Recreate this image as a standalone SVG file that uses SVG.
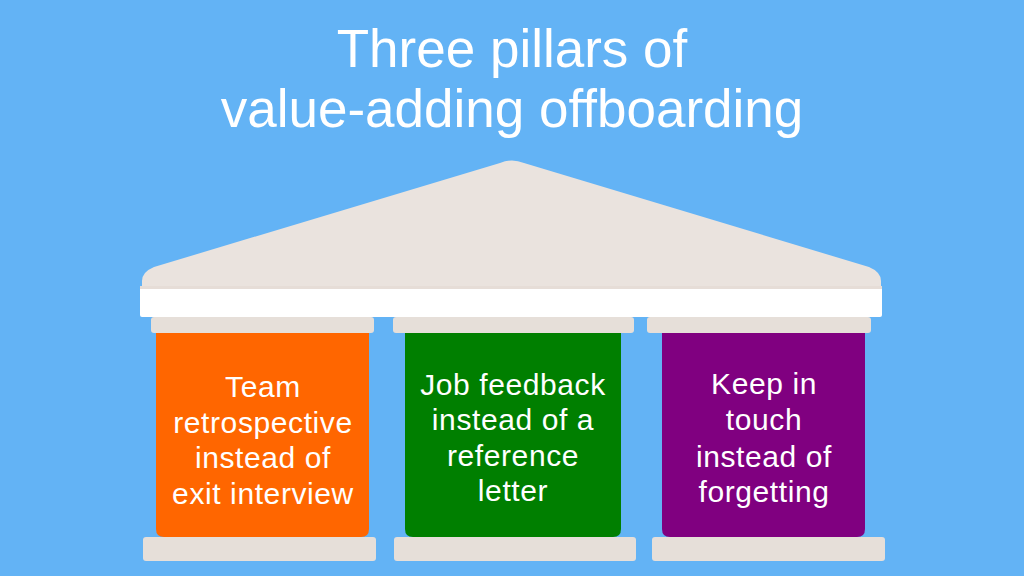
<svg xmlns="http://www.w3.org/2000/svg" width="1024" height="576" viewBox="0 0 1024 576">
<style>
.title{font-family:"Liberation Sans",Arial,sans-serif;font-size:53px;fill:#fff;text-anchor:middle}
.lbl{font-family:"Liberation Sans",Arial,sans-serif;font-size:30px;fill:#fff;text-anchor:middle;letter-spacing:0.6px}
.stone{fill:#E6DFD9}
</style>
<rect width="1024" height="576" fill="#63B3F5"/>
<g id="title">
<text class="title" x="512" y="67">Three pillars of</text>
<text class="title" x="512" y="127">value-adding offboarding</text>
</g>
<g id="roof">
<path d="M142,288 L142,281 Q142,272 154,267 L500,163 Q512,158 524,163 L869,267 Q881,272 881,281 L881,288 Z" fill="#EAE3DE"/>
<rect x="140" y="286" width="742" height="31" rx="2" fill="#fff"/>
<rect x="140" y="286" width="742" height="3" fill="#E6DDD7"/>
</g>
<g id="pillar1">
<rect class="stone" x="151" y="317" width="223" height="16" rx="3"/>
<path d="M156,333 H369 V529 Q369,537 361,537 H164 Q156,537 156,529 Z" fill="#FF6600"/>
<rect class="stone" x="143" y="537" width="233" height="24" rx="3"/>
<text class="lbl" x="263" y="397">Team</text>
<text class="lbl" x="263" y="433">retrospective</text>
<text class="lbl" x="263" y="468">instead of</text>
<text class="lbl" x="263" y="504">exit interview</text>
</g>
<g id="pillar2">
<rect class="stone" x="393" y="317" width="241" height="16" rx="3"/>
<path d="M405,333 H621 V529 Q621,537 613,537 H413 Q405,537 405,529 Z" fill="#007F00"/>
<rect class="stone" x="394" y="537" width="242" height="24" rx="3"/>
<text class="lbl" x="513" y="395">Job feedback</text>
<text class="lbl" x="513" y="430">instead of a</text>
<text class="lbl" x="513" y="466">reference</text>
<text class="lbl" x="513" y="501">letter</text>
</g>
<g id="pillar3">
<rect class="stone" x="647" y="317" width="224" height="16" rx="3"/>
<path d="M662,333 H865 V529 Q865,537 857,537 H670 Q662,537 662,529 Z" fill="#800080"/>
<rect class="stone" x="652" y="537" width="233" height="24" rx="3"/>
<text class="lbl" x="764" y="394">Keep in</text>
<text class="lbl" x="764" y="430">touch</text>
<text class="lbl" x="764" y="467">instead of</text>
<text class="lbl" x="764" y="502">forgetting</text>
</g>
<g id="connectors"/>
</svg>
